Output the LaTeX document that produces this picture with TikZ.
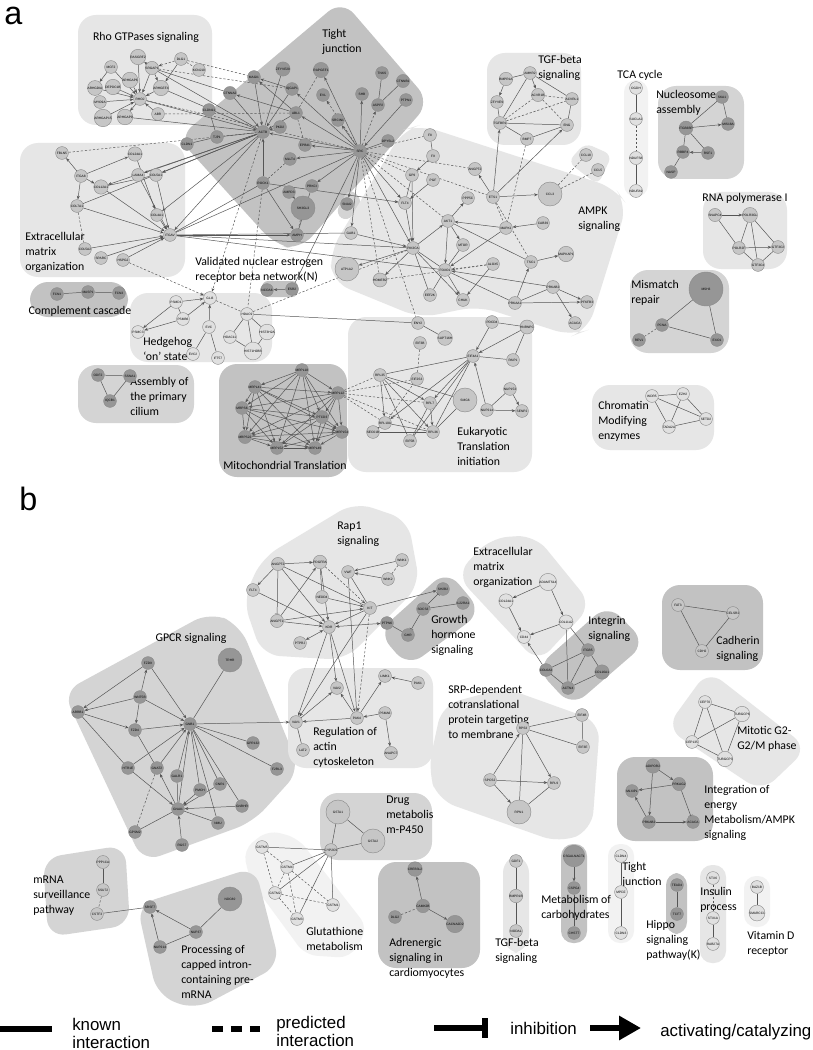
\documentclass[tikz,border=0pt]{standalone}
\usepackage{fontspec}
\setmainfont{Liberation Sans}
\newfontfamily\carlito{Carlito}
\usetikzlibrary{arrows.meta}
\definecolor{clPale}{HTML}{F2F2F2}
\definecolor{clLite}{HTML}{E6E6E6}
\definecolor{clMid}{HTML}{D4D4D4}
\definecolor{clDark}{HTML}{C2C2C2}
\definecolor{geneLite}{HTML}{C6C6C6}
\definecolor{geneDark}{HTML}{969696}
\definecolor{genePale}{HTML}{E0E0E0}
\definecolor{wire}{HTML}{555555}
\pgfdeclarelayer{back}
\pgfdeclarelayer{wires}
\pgfsetlayers{back,wires,main}

\begin{document}
\begin{tikzpicture}[
    x=0.025cm, y=-0.025cm,
    gene/.style={circle, draw=black!45, fill=geneLite, line width=0.3pt, minimum size=0.32cm, inner sep=0pt, font=\fontsize{2.3}{2.6}\selectfont},
    dgene/.style={gene, fill=geneDark},
    pgene/.style={gene, fill=genePale},
    bignode/.style={minimum size=0.6cm},
    hugenode/.style={minimum size=0.85cm},
    act/.style={-{Stealth[length=2.6pt,width=2.1pt]}, draw=wire, line width=0.35pt},
    und/.style={draw=wire, line width=0.35pt},
    pred/.style={und, dash pattern=on 1.6pt off 1.3pt},
    predact/.style={act, dash pattern=on 1.6pt off 1.3pt},
    inh/.style={-{Bar[width=3.2pt]}, draw=wire, line width=0.35pt},
    cltag/.style={font=\carlito\fontsize{8.4}{10.6}\selectfont, align=left, anchor=north west, inner sep=0pt},
    ctag/.style={cltag, anchor=center},
    bgPale/.style={fill=clPale, rounded corners=0.3cm},
    bgLite/.style={fill=clLite, rounded corners=0.45cm},
    bgMid/.style={fill=clMid, rounded corners=0.45cm},
    bgDark/.style={fill=clDark, rounded corners=0.45cm},
    keytext/.style={font=\fontsize{12}{12.8}\selectfont, align=left, anchor=west, inner sep=0pt},
    panel/.style={font=\fontsize{23}{26}\selectfont, anchor=base west, inner sep=0pt}
]
    \useasboundingbox (0,0) rectangle (812,1050);

    % Cluster backgrounds
    \begin{pgfonlayer}{back}
    \fill[white] (0,0) rectangle (812,1050);
    % panel a
    \fill[bgLite] (78,15) rectangle (212,125);
    \fill[bgDark] (178,138) -- (342,0) -- (430,102) -- (300,250) -- (275,245) -- cycle;
    \fill[bgMid, rounded corners=0.2cm] (335,214) -- (349,188) -- (363,200) -- (348,222) -- cycle;
    \fill[bgLite] (20,143) rectangle (185,277);
    \fill[bgDark] (30,282) rectangle (128,317);
    \fill[bgLite] (130,293) rectangle (272,362);
    \fill[bgDark, rounded corners=0.15cm] (262,281) rectangle (298,297);
    \fill[bgMid] (78,365) rectangle (194,423);
    \fill[bgDark] (219,364) rectangle (347,477);
    \fill[bgLite] (348,317) rectangle (532,472);
    \fill[bgLite] (330,252) -- (403,130) -- (420,125) -- (615,188) -- (627,205) -- (588,330) -- (572,336) -- (478,306) -- (420,318) -- (332,282) -- cycle;
    \fill[bgLite, rounded corners=0.2cm] (568,162) -- (585,143) -- (612,155) -- (598,185) -- cycle;
    \fill[bgLite] (487,53) rectangle (581,145);
    \fill[bgPale] (624,80) rectangle (648,197);
    \fill[bgMid] (658,86) rectangle (744,179);
    \fill[bgLite] (703,192) rectangle (787,269);
    \fill[bgMid] (630,270) rectangle (729,353);
    \fill[bgLite] (592,385) rectangle (714,450);
    % panel b
    \fill[bgLite] (243,600) -- (262,558) -- (355,502) -- (408,520) -- (420,585) -- (345,660) -- (262,655) -- cycle;
    \fill[bgDark] (378,632) -- (447,570) -- (482,612) -- (408,667) -- cycle;
    \fill[bgLite] (456,575) -- (490,538) -- (535,535) -- (592,605) -- (538,663) -- cycle;
    \fill[bgDark] (536,668) -- (608,604) -- (646,643) -- (572,707) -- cycle;
    \fill[bgDark] (662,585) rectangle (763,670);
    \fill[bgMid] (63,692) -- (210,612) -- (240,625) -- (300,770) -- (253,822) -- (143,862) -- cycle;
    \fill[bgLite] (288,668) rectangle (433,768);
    \fill[bgLite] (428,770) -- (442,705) -- (505,688) -- (600,722) -- (592,830) -- (560,843) -- (438,800) -- cycle;
    \fill[bgLite] (666,728) -- (708,670) -- (808,748) -- (762,792) -- cycle;
    \fill[bgDark] (617,757) rectangle (713,841);
    \fill[bgMid] (320,793) rectangle (432,860);
    \fill[bgPale] (243,850) -- (268,830) -- (298,838) -- (368,928) -- (350,958) -- (305,955) -- (250,880) -- cycle;
    \fill[bgDark] (378,862) rectangle (480,968);
    \fill[bgMid] (43,858) -- (125,845) -- (130,925) -- (48,937) -- cycle;
    \fill[bgMid] (137,905) -- (255,867) -- (280,965) -- (195,1010) -- (157,995) -- cycle;
    \fill[bgLite] (503,855) rectangle (529,953);
    \fill[clDark, rounded corners=0.3cm] (561,844) rectangle (587,943);
    \fill[bgPale] (608,844) rectangle (634,943);
    \fill[clDark, rounded corners=0.3cm] (666,873) rectangle (687,934);
    \fill[bgLite, rounded corners=0.3cm] (700,865) rectangle (726,963);
    \fill[bgPale] (744,876) rectangle (770,927);
    \end{pgfonlayer}

    % Panel letters
    \node[panel] (pa) at (4,25) {a};
    \node[panel] (pb) at (19,510) {b};

    % Cluster titles, panel a
    \node[ctag] (tRho) at (146,37) {Rho GTPases signaling};
    \node[cltag] (tTight) at (322,29) {Tight\\junction};
    \node[cltag] (tEcmA) at (25,232) {Extracellular\\matrix\\organization};
    \node[ctag] (tComp) at (80,311) {Complement cascade};
    \node[cltag] (tHedge) at (143,337) {Hedgehog\\‘on’ state};
    \node[cltag] (tEsr) at (195,257) {Validated nuclear estrogen\\receptor beta network(N)};
    \node[cltag] (tCilium) at (130,377) {Assembly of\\the primary\\cilium};
    \node[ctag] (tMito) at (285,465) {Mitochondrial Translation};
    \node[cltag] (tEuk) at (457,427) {Eukaryotic\\Translation\\initiation};
    \node[cltag] (tTgfA) at (538,55) {TGF-beta\\signaling};
    \node[ctag] (tTca) at (640,75) {TCA cycle};
    \node[cltag] (tNuc) at (656,90) {Nucleosome\\assembly};
    \node[ctag] (tRna) at (745,198) {RNA polymerase I};
    \node[cltag] (tAmpk) at (578,207) {AMPK\\signaling};
    \node[cltag] (tMis) at (631,280) {Mismatch\\repair};
    \node[cltag] (tChrom) at (598,401) {Chromatin\\Modifying\\enzymes};

    % Cluster titles, panel b
    \node[cltag] (tRap) at (337,522) {Rap1\\signaling};
    \node[cltag] (tEcmB) at (473,547) {Extracellular\\matrix\\organization};
    \node[cltag] (tGrowth) at (431,615) {Growth\\hormone\\signaling};
    \node[cltag] (tInteg) at (588,616) {Integrin\\signaling};
    \node[cltag] (tCadh) at (716,636) {Cadherin\\signaling};
    \node[ctag] (tGpcr) at (191,638) {GPCR signaling};
    \node[cltag] (tActin) at (313,727) {Regulation of\\actin\\cytoskeleton};
    \node[cltag] (tSrp) at (448,685) {SRP-dependent\\cotranslational\\protein targeting\\to membrane};
    \node[cltag] (tMitotic) at (737,726) {Mitotic G2-\\G2/M phase};
    \node[cltag] (tEnergy) at (704,785) {Integration of\\energy\\Metabolism/AMPK\\signaling};
    \node[cltag] (tDrug) at (386,796) {Drug\\metabolis\\m-P450};
    \node[cltag] (tMrna) at (33,876) {mRNA\\surveillance\\pathway};
    \node[cltag] (tProc) at (181,945) {Processing of\\capped intron-\\containing pre-\\mRNA};
    \node[cltag] (tGlut) at (306,927) {Glutathione\\metabolism};
    \node[cltag] (tAdren) at (389,938) {Adrenergic\\signaling in\\cardiomyocytes};
    \node[cltag] (tTgfB) at (495,938) {TGF-beta\\signaling};
    \node[cltag] (tCarb) at (541,895) {Metabolism of\\carbohydrates};
    \node[cltag] (tTightB) at (622,862) {Tight\\junction};
    \node[cltag] (tHippo) at (646,920) {Hippo\\signaling\\pathway(K)};
    \node[cltag] (tIns) at (700,887) {Insulin\\process};
    \node[cltag] (tVitd) at (747,931) {Vitamin D\\receptor};

    % Genes, Rho GTPases
    \node[gene] (rasgrf) at (138,57) {RASGRF2};
    \node[gene] (dlgA) at (181,59) {DLG1};
    \node[gene] (kcnj) at (199,70) {KCNJ10};
    \node[gene] (mcf) at (111,67) {MCF2};
    \node[gene] (arhgapS) at (130,80) {ARHGAP6};
    \node[gene] (srgap) at (152,68) {SRGAP1};
    \node[gene] (arhgef) at (161,88) {ARHGEF4};
    \node[gene] (arhgdia) at (95,88) {ARHGDIA};
    \node[gene] (depdc) at (113,87) {DEPDC1B};
    \node[gene] (rhoj) at (140,99) {RHOJ};
    \node[gene] (myo) at (100,102) {MYO9A};
    \node[gene] (arhgapF) at (103,118) {ARHGAP15};
    \node[gene] (arhgapN) at (125,117) {ARHGAP9};
    \node[gene] (abr) at (158,114) {ABR};

    % Genes, tight junction
    \node[dgene] (zfyve) at (283,69) {ZFYVE20};
    \node[dgene] (rapgef) at (321,70) {RAPGEF1};
    \node[dgene] (magi) at (254,77) {MAGI1};
    \node[dgene] (tnks) at (382,73) {TNKS};
    \node[dgene] (ctnnb) at (403,81) {CTNNB1};
    \node[dgene] (ctnna) at (230,93) {CTNNA2};
    \node[dgene] (iqgap) at (292,89) {IQGAP1};
    \node[dgene] (shb) at (362,94) {SHB};
    \node[dgene] (evl) at (323,95) {EVL};
    \node[dgene] (aspp) at (378,105) {ASPP2};
    \node[dgene] (ptpn) at (406,100) {PTPN1};
    \node[dgene] (cldnE) at (209,110) {CLDN11};
    \node[dgene] (abl) at (296,113) {ABL1};
    \node[dgene] (srcin) at (338,120) {SRCIN1};
    \node[dgene] (actb) at (263,132) {ACTB};
    \node[dgene] (pkd) at (280,127) {PKD2};
    \node[dgene] (tjp) at (217,137) {TJP1};
    \node[dgene] (cldnA) at (187,144) {CLDN1};
    \node[dgene] (epb) at (305,145) {EPB41};
    \node[dgene] (dpysl) at (388,141) {DPYSL2};
    \node[dgene] (src) at (360,151) {SRC};
    \node[dgene] (mllt) at (290,159) {MLLT4};
    \node[dgene] (rock) at (263,183) {ROCK1};
    \node[dgene] (ampd) at (289,192) {AMPD3};
    \node[dgene] (prkci) at (312,186) {PRKCI};
    \node[dgene, bignode] (sh3) at (303,208) {SH3GL3};
    \node[dgene] (snai) at (347,204) {SNAI2};
    \node[dgene] (amph) at (297,235) {AMPH};
    \node[gene] (gab) at (351,233) {GAB1};

    % Genes, extracellular matrix (a)
    \node[gene] (fbln) at (62,153) {FBLN5};
    \node[gene] (colTF) at (135,154) {COL24A1};
    \node[gene] (itga) at (81,176) {ITGA8};
    \node[gene] (colTw) at (101,187) {COL12A1};
    \node[gene] (lama) at (138,175) {LAMA4};
    \node[gene] (colF) at (156,175) {COL5A1};
    \node[gene] (colS) at (77,206) {COL7A1};
    \node[gene] (colFo) at (157,215) {COL4A1};
    \node[gene] (itgav) at (170,235) {ITGAV};
    \node[gene] (colFF) at (85,249) {COL5A2};
    \node[gene] (sparc) at (101,258) {SPARC};
    \node[gene] (hspg) at (123,260) {HSPG2};

    % Genes, complement, hedgehog, estrogen, cilium
    \node[dgene] (fcnA) at (57,294) {FCN1};
    \node[dgene] (masp) at (88,292) {MASP1};
    \node[dgene] (fcnC) at (119,293) {FCN3};
    \node[pgene] (gli) at (210,298) {GLI3};
    \node[pgene] (psmd) at (176,302) {PSMD1};
    \node[pgene] (psmb) at (183,319) {PSMB6};
    \node[pgene] (psmc) at (138,332) {PSMC3};
    \node[pgene] (evc) at (209,327) {EVC};
    \node[pgene] (hdac) at (247,314) {HDAC9};
    \node[pgene] (hdacE) at (230,337) {HDAC11};
    \node[pgene] (hist) at (267,332) {HIST3H2A};
    \node[pgene] (histB) at (253,351) {HIST1H2BB};
    \node[pgene] (evcB) at (193,354) {EVC2};
    \node[pgene] (ift) at (218,358) {IFT57};
    \node[dgene] (ncoa) at (267,290) {NCOA6};
    \node[dgene] (esr) at (292,289) {ESR2};
    \node[dgene] (odf) at (98,375) {ODF2};
    \node[dgene] (ssna) at (130,376) {SSNA1};
    \node[dgene] (iqcb) at (110,401) {IQCB1};

    % Genes, mitochondrial translation
    \node[dgene] (mrplE) at (302,370) {MRPL18};
    \node[dgene] (mrplFA) at (255,387) {MRPL41};
    \node[dgene] (mrplT) at (338,393) {MRPL12};
    \node[dgene] (mrpsS) at (242,408) {MRPS6};
    \node[dgene] (ptcd) at (322,417) {PTCD3};
    \node[dgene] (mrpsT) at (245,437) {MRPS22};
    \node[dgene] (mrplFF) at (342,432) {MRPL54};
    \node[dgene] (mrplFT) at (277,448) {MRPL52};
    \node[dgene] (mrplFN) at (315,448) {MRPL49};

    % Genes, eukaryotic translation initiation
    \node[gene] (eny) at (418,323) {ENY2};
    \node[gene] (supt) at (445,338) {SUPT16H};
    \node[gene] (pdcd) at (492,322) {PDCD4};
    \node[gene] (hnrnp) at (527,327) {HNRNPC};
    \node[gene] (eifTB) at (420,343) {EIF3B};
    \node[gene] (eifA) at (473,356) {EIF4A1};
    \node[gene] (paip) at (513,360) {PAIP1};
    \node[gene] (rplTF) at (380,375) {RPL35};
    \node[gene] (eifTS) at (417,379) {EIF2S3};
    \node[gene] (nupOF) at (510,389) {NUP153};
    \node[gene] (rplS) at (430,403) {RPL7};
    \node[gene, bignode] (smg) at (465,400) {SMG6};
    \node[gene] (nupTO) at (487,410) {NUP214};
    \node[gene] (senp) at (522,411) {SENP2};
    \node[gene] (rplTA) at (385,423) {RPL10A};
    \node[gene] (rplTS) at (433,432) {RPL36};
    \node[gene] (sec) at (373,432) {SEC61B};
    \node[gene] (eifFB) at (410,441) {EIF5B};

    % Genes, AMPK signaling
    \node[gene] (feE) at (430,135) {F8};
    \node[gene] (feN) at (433,156) {F9};
    \node[gene] (gpN) at (412,175) {GP9};
    \node[gene] (pgf) at (433,180) {PGF};
    \node[gene] (angptA) at (475,169) {ANGPT2};
    \node[gene] (ets) at (493,197) {ETS1};
    \node[gene, bignode] (ccl) at (550,194) {CCL3};
    \node[gene] (ccle) at (586,155) {CCL18};
    \node[gene] (cclf) at (598,170) {CCL5};
    \node[gene] (ppp) at (468,198) {PPP5C};
    \node[gene] (akt) at (448,221) {AKT1};
    \node[gene] (fltA) at (405,203) {FLT4};
    \node[gene] (mapk) at (506,228) {MAPK1};
    \node[gene] (cab) at (543,223) {CAB39};
    \node[gene] (mtor) at (463,245) {MTOR};
    \node[gene] (pik) at (413,248) {PIK3CA};
    \node[gene, bignode] (atp) at (347,269) {ATP1A2};
    \node[gene] (alox) at (493,264) {ALOX5};
    \node[gene] (tsc) at (531,262) {TSC1};
    \node[gene] (mapkap) at (566,254) {MAPKAP1};
    \node[gene] (foxo) at (445,270) {FOXO1};
    \node[gene] (homer) at (380,280) {HOMER2};
    \node[gene] (prkabA) at (553,287) {PRKAB2};
    \node[gene] (eef) at (430,295) {EEF2K};
    \node[gene] (chuk) at (463,300) {CHUK};
    \node[gene] (prkaa) at (515,303) {PRKAA1};
    \node[gene] (pfkfb) at (587,302) {PFKFB3};
    \node[gene] (acacaA) at (575,323) {ACACA};

    % Genes, TGF-beta, TCA, nucleosome, RNA polymerase, mismatch, chromatin
    \node[gene] (bmpr) at (506,79) {BMPR1A};
    \node[gene] (amhr) at (530,73) {AMHR2};
    \node[gene] (acvrB) at (538,95) {ACVR1B};
    \node[gene] (acvrl) at (572,99) {ACVRL1};
    \node[gene] (zfyveN) at (497,102) {ZFYVE9};
    \node[gene] (tgfbr) at (500,123) {TGFBR1};
    \node[gene] (eng) at (567,125) {ENG};
    \node[gene] (bmp) at (527,139) {BMP7};
    \node[pgene] (ogdh) at (636,88) {OGDH};
    \node[pgene] (sucla) at (636,119) {SUCLA2};
    \node[pgene] (ndufs) at (636,158) {NDUFS8};
    \node[pgene] (ndufa) at (636,191) {NDUFA9};
    \node[dgene] (ska) at (722,97) {SKA1};
    \node[dgene] (itgb) at (686,128) {ITGB3BP};
    \node[dgene] (mis) at (728,124) {MIS18A};
    \node[dgene] (rbbp) at (683,152) {RBBP4};
    \node[dgene] (rsf) at (708,153) {RSF1};
    \node[dgene] (nasp) at (671,172) {NASP};
    \node[gene] (snapc) at (715,215) {SNAPC4};
    \node[gene] (polrG) at (750,215) {POLR3GL};
    \node[gene] (polrF) at (739,248) {POLR2F};
    \node[gene] (gtfT) at (778,247) {GTF3C2};
    \node[gene] (gtfF) at (758,265) {GTF3C4};
    \node[dgene, hugenode] (msh) at (706,289) {MSH3};
    \node[dgene] (pcna) at (662,325) {PCNA};
    \node[dgene] (rev) at (639,340) {REV1};
    \node[dgene] (exo) at (717,340) {EXO1};
    \node[pgene] (wdr) at (652,396) {WDR5};
    \node[pgene] (ezh) at (683,394) {EZH2};
    \node[pgene] (setd) at (706,419) {SETD2};
    \node[pgene] (tada) at (669,427) {TADA2A};

    % Genes, Rap1, growth hormone, ECM (b), integrin, cadherin, mitotic
    \node[gene] (angptB) at (278,564) {ANGPT2};
    \node[gene] (pdgfra) at (320,562) {PDGFRA};
    \node[gene] (wnkA) at (402,560) {WNK1};
    \node[gene] (vwf) at (348,572) {VWF};
    \node[gene] (wnkB) at (388,579) {WNK2};
    \node[gene] (fltB) at (253,590) {FLT4};
    \node[gene] (nedd) at (322,597) {NEDD4};
    \node[gene] (kit) at (370,608) {KIT};
    \node[gene] (angptO) at (277,621) {ANGPT1};
    \node[gene] (kdr) at (329,627) {KDR};
    \node[gene] (ptprj) at (300,643) {PTPRJ};
    \node[dgene] (shtb) at (443,589) {SH2B2};
    \node[dgene] (ilr) at (463,603) {IL22RA1};
    \node[dgene] (socs) at (423,609) {SOCS3};
    \node[dgene] (ptpnS) at (387,623) {PTPN6};
    \node[dgene] (ghr) at (408,635) {GHR};
    \node[pgene] (adamts) at (548,582) {ADAMTS14};
    \node[pgene] (colTFb) at (506,601) {COL24A1};
    \node[pgene] (colEA) at (566,622) {COL11A2};
    \node[pgene] (cdff) at (524,637) {CD44};
    \node[dgene] (colSA) at (546,670) {COL6A3};
    \node[dgene] (itgbF) at (588,650) {ITGB5};
    \node[dgene] (colOS) at (602,672) {COL16A1};
    \node[dgene] (actn) at (568,688) {ACTN4};
    \node[gene] (fat) at (678,605) {FAT3};
    \node[gene] (celsr) at (733,613) {CELSR2};
    \node[gene] (cdh) at (702,651) {CDH2};
    \node[pgene] (cepS) at (705,702) {CEP70};
    \node[pgene] (tubS) at (742,714) {TUBGCP6};
    \node[pgene] (cepOTF) at (692,742) {CEP135};
    \node[pgene] (tubT) at (725,759) {TUBGCP3};

    % Genes, energy metabolism, SRP, GPCR, actin
    \node[dgene] (adipor) at (653,766) {ADIPOR2};
    \node[dgene] (prkag) at (679,784) {PRKAG2};
    \node[dgene] (mlx) at (632,791) {MLXIPL};
    \node[dgene] (prkabB) at (649,822) {PRKAB2};
    \node[dgene] (acacaB) at (693,822) {ACACA};
    \node[gene] (eifFBb) at (582,715) {EIF4B};
    \node[gene] (rps) at (523,728) {RPS3};
    \node[gene] (eifTE) at (583,747) {EIF3E};
    \node[gene] (spcs) at (490,780) {SPCS2};
    \node[gene] (rplN) at (554,783) {RPL9};
    \node[gene, bignode] (rpn) at (519,812) {RPN1};
    \node[dgene] (fzdN) at (148,663) {FZD9};
    \node[dgene, bignode] (trhr) at (230,660) {TRHR};
    \node[dgene] (wnt) at (140,697) {WNT5B};
    \node[dgene] (arrb) at (78,712) {ARRB1};
    \node[dgene] (gnb) at (190,724) {GNB1};
    \node[dgene] (fzdF) at (135,730) {FZD4};
    \node[dgene] (gpr) at (253,743) {GPR132};
    \node[dgene] (htr) at (128,768) {HTR1E};
    \node[dgene] (gnat) at (157,768) {GNAT2};
    \node[dgene] (galr) at (177,776) {GALR1};
    \node[dgene] (ftrl) at (277,769) {F2RL3};
    \node[dgene] (pmch) at (200,790) {PMCH};
    \node[dgene] (cnr) at (220,784) {CNR1};
    \node[dgene] (gnai) at (178,809) {GNAI1};
    \node[dgene] (gnrhr) at (242,806) {GNRHR};
    \node[dgene] (nmu) at (218,823) {NMU};
    \node[dgene] (gpsm) at (135,832) {GPSM2};
    \node[dgene] (rgs) at (182,845) {RGS7};
    \node[gene] (vav) at (296,722) {VAV1};
    \node[gene] (lat) at (303,750) {LAT2};
    \node[gene] (pak) at (357,718) {PAK4};
    \node[gene] (psma) at (385,713) {PSMA6};
    \node[gene] (anapc) at (391,753) {ANAPC7};
    \node[gene] (vavT) at (337,688) {VAV2};
    \node[gene] (limk) at (385,676) {LIMK1};
    \node[gene] (pakO) at (418,683) {PAK1};

    % Genes, drug, glutathione, adrenergic, mRNA, processing
    \node[gene, bignode] (gstaO) at (338,812) {GSTA1};
    \node[gene, bignode] (gstaT) at (373,841) {GSTA2};
    \node[gene] (cyp) at (331,850) {CYP2C9};
    \node[pgene] (gstmF) at (262,847) {GSTM5};
    \node[pgene] (gstmFo) at (287,867) {GSTM4};
    \node[pgene] (gstmT) at (275,893) {GSTM2};
    \node[pgene] (gstmO) at (333,905) {GSTM1};
    \node[pgene] (gstmTh) at (297,919) {GSTM3};
    \node[dgene] (creb) at (415,869) {CREB3L2};
    \node[dgene] (camk) at (423,906) {CAMK2B};
    \node[dgene] (dlg) at (395,917) {DLG2};
    \node[dgene] (cacna) at (455,924) {CACNA2D2};
    \node[gene] (pppB) at (103,862) {PPP1CA};
    \node[gene] (ssu) at (103,890) {SSU72};
    \node[gene] (cstf) at (97,914) {CSTF3};
    \node[dgene, bignode] (ndc) at (230,899) {NDC80};
    \node[dgene] (srsf) at (150,907) {SRSF7};
    \node[dgene] (nupTS) at (196,932) {NUP37};
    \node[dgene] (nupTOb) at (160,947) {NUP214};

    % Genes, small strips
    \node[gene] (gdf) at (516,861) {GDF1};
    \node[gene] (bmprB) at (516,896) {BMPR1B};
    \node[gene] (nodal) at (516,931) {NODAL};
    \node[dgene] (csgal) at (574,856) {CSGALNACT1};
    \node[dgene] (cspg) at (574,888) {CSPG4};
    \node[dgene] (chst) at (574,933) {CHST7};
    \node[pgene] (cldnF) at (621,856) {CLDN4};
    \node[pgene] (mpdz) at (621,892) {MPDZ};
    \node[pgene] (cldnT) at (621,933) {CLDN3};
    \node[dgene] (tead) at (677,885) {TEAD4};
    \node[dgene] (tcf) at (677,914) {TCF7};
    \node[pgene] (stxS) at (713,878) {STX6};
    \node[pgene] (stxO) at (713,918) {STX1A};
    \node[pgene] (rab) at (713,944) {RAB27A};
    \node[pgene] (baz) at (757,887) {BAZ1B};
    \node[pgene] (smarc) at (757,913) {SMARCC1};

    % Interactions
    \begin{pgfonlayer}{wires}
    % Rho GTPases
    \draw[act] (mcf) -- (arhgdia); \draw[act] (rasgrf) -- (rhoj); \draw[act] (mcf) -- (rhoj);
    \draw[act] (arhgapS) -- (rhoj); \draw[act] (srgap) -- (rhoj); \draw[act] (srgap) -- (rasgrf);
    \draw[predact] (dlgA) -- (srgap); \draw[act] (dlgA) -- (arhgef); \draw[act] (srgap) -- (arhgef);
    \draw[act] (arhgef) -- (rhoj); \draw[act] (arhgdia) -- (rhoj); \draw[act] (depdc) -- (rhoj);
    \draw[act] (myo) -- (rhoj); \draw[act] (arhgapF) -- (rhoj); \draw[act] (rhoj) -- (arhgapN);
    \draw[act] (abr) -- (rhoj); \draw[pred] (dlgA) -- (kcnj);
    \draw[und] (srgap) -- (ctnna); \draw[und] (srgap) -- (actb); \draw[und] (arhgef) -- (actb);
    \draw[act] (rhoj) -- (actb); \draw[und] (arhgapN) -- (actb);
    \draw[pred] (dlgA) -- (magi); \draw[pred] (abr) -- (abl); \draw[pred] (rhoj) -- (src);
    \draw[pred] (srgap) -- (iqgap);

    % Tight junction
    \draw[act] (magi) -- (actb); \draw[act] (ctnna) -- (actb); \draw[und] (tjp) -- (actb);
    \draw[und] (cldnE) -- (tjp); \draw[und] (tjp) -- (cldnA); \draw[act] (abl) -- (actb);
    \draw[act] (abl) -- (magi); \draw[pred] (abl) -- (rapgef); \draw[act] (abl) -- (ctnna);
    \draw[act] (iqgap) -- (actb); \draw[act] (pkd) -- (actb); \draw[act] (src) -- (abl);
    \draw[act] (src) -- (shb); \draw[predact] (src) -- (evl); \draw[predact] (src) -- (aspp);
    \draw[und] (aspp) -- (tnks); \draw[und] (aspp) -- (ctnnb); \draw[act] (ptpn) -- (src);
    \draw[und] (dpysl) -- (src); \draw[act] (src) -- (srcin); \draw[act] (src) -- (epb);
    \draw[act] (src) -- (mllt); \draw[act] (src) -- (prkci); \draw[act] (src) -- (snai);
    \draw[act] (src) -- (rapgef); \draw[act] (src) -- (iqgap); \draw[act] (src) -- (actb);
    \draw[pred] (rock) -- (mllt); \draw[act] (rock) -- (actb); \draw[act] (rock) -- (amph);
    \draw[act] (ampd) -- (sh3); \draw[pred] (sh3) -- (amph); \draw[und] (prkci) -- (amph);
    \draw[pred] (abl) -- (epb); \draw[act] (iqgap) -- (magi); \draw[und] (zfyve) -- (actb);

    % Tight junction to other clusters
    \draw[act] (actb) -- (itgav); \draw[act] (actb) -- (colFo); \draw[act] (actb) -- (lama);
    \draw[act] (actb) -- (colTw); \draw[act] (actb) -- (colF); \draw[pred] (fbln) -- (actb);
    \draw[predact] (actb) -- (gli); \draw[und] (actb) -- (colS); \draw[und] (src) -- (itgav);
    \draw[act] (src) -- (pik); \draw[act] (src) -- (fltA); \draw[pred] (src) -- (gpN);
    \draw[pred] (src) -- (angptA); \draw[pred] (src) -- (ets); \draw[act] (src) -- (gab);
    \draw[pred] (src) -- (homer); \draw[pred] (src) -- (eny); \draw[pred] (src) -- (feE);
    \draw[und] (src) -- (esr); \draw[pred] (src) -- (akt); \draw[act] (rock) -- (fltA);
    \draw[und] (rock) -- (itgav); \draw[pred] (rock) -- (hdac);

    % Extracellular matrix (a)
    \draw[act] (colFF) -- (itgav); \draw[act] (sparc) -- (itgav); \draw[act] (hspg) -- (itgav);
    \draw[act] (colS) -- (itgav); \draw[act] (colTw) -- (itgav); \draw[act] (lama) -- (itgav);
    \draw[act] (colF) -- (itgav); \draw[act] (colFo) -- (itgav); \draw[act] (colTF) -- (colFo);
    \draw[act] (itga) -- (colS); \draw[act] (itga) -- (colTw); \draw[act] (itga) -- (fbln);
    \draw[act] (itga) -- (colTF); \draw[pred] (colS) -- (colFF); \draw[und] (colTw) -- (colF);
    \draw[und] (itgav) -- (pik); \draw[und] (itgav) -- (foxo); \draw[act] (itgav) -- (amph);
    \draw[und] (itgav) -- (gab); \draw[predact] (hspg) -- (gli);

    % Complement, hedgehog, estrogen, cilium
    \draw[und] (fcnA) -- (masp); \draw[und] (masp) -- (fcnC);
    \draw[act] (psmd) -- (gli); \draw[act] (psmb) -- (gli); \draw[und] (psmd) -- (psmb);
    \draw[act] (psmd) -- (psmc); \draw[act] (psmb) -- (psmc); \draw[act] (evc) -- (gli);
    \draw[und] (evc) -- (evcB); \draw[und] (evc) -- (ift); \draw[pred] (gli) -- (hdac);
    \draw[und] (hdac) -- (hdacE); \draw[und] (hdac) -- (histB); \draw[und] (hdac) -- (hist);
    \draw[und] (hist) -- (histB); \draw[und] (hdacE) -- (histB);
    \draw[pred] (hdac) -- (pik); \draw[und] (hdac) -- (eny);
    \draw[act] (esr) -- (ncoa);
    \draw[und] (odf) -- (ssna); \draw[und] (odf) -- (iqcb); \draw[und] (ssna) -- (iqcb);

    % Mitochondrial translation
    \draw[act] (mrplE) -- (mrplFA); \draw[act] (mrplE) -- (mrplT); \draw[act] (mrplE) -- (mrpsS);
    \draw[act] (mrplE) -- (ptcd); \draw[act] (mrplE) -- (mrpsT); \draw[act] (mrplE) -- (mrplFF);
    \draw[act] (mrplE) -- (mrplFT); \draw[act] (mrplE) -- (mrplFN);
    \draw[act] (mrplFA) -- (mrplT); \draw[act] (mrplFA) -- (mrpsS); \draw[act] (mrplFA) -- (ptcd);
    \draw[act] (mrplFA) -- (mrpsT); \draw[act] (mrplFA) -- (mrplFF); \draw[act] (mrplFA) -- (mrplFT);
    \draw[act] (mrplFA) -- (mrplFN);
    \draw[act] (mrplT) -- (mrpsS); \draw[act] (mrplT) -- (ptcd); \draw[act] (mrplT) -- (mrpsT);
    \draw[act] (mrplT) -- (mrplFF); \draw[act] (mrplT) -- (mrplFT); \draw[act] (mrplT) -- (mrplFN);
    \draw[act] (mrpsS) -- (ptcd); \draw[act] (mrpsS) -- (mrpsT); \draw[act] (mrpsS) -- (mrplFF);
    \draw[act] (mrpsS) -- (mrplFT); \draw[act] (mrpsS) -- (mrplFN);
    \draw[act] (ptcd) -- (mrpsT); \draw[act] (ptcd) -- (mrplFF); \draw[act] (ptcd) -- (mrplFT);
    \draw[act] (ptcd) -- (mrplFN);
    \draw[act] (mrpsT) -- (mrplFF); \draw[act] (mrpsT) -- (mrplFT); \draw[act] (mrpsT) -- (mrplFN);
    \draw[act] (mrplFF) -- (mrplFT); \draw[act] (mrplFF) -- (mrplFN); \draw[act] (mrplFT) -- (mrplFN);
    \draw[pred] (mrplT) -- (rplTF); \draw[pred] (mrplT) -- (rplS); \draw[pred] (mrplT) -- (rplTA);
    \draw[pred] (mrplT) -- (rplTS); \draw[pred] (mrplT) -- (eifTS);

    % Eukaryotic translation initiation
    \draw[und] (eny) -- (supt); \draw[pred] (eifTB) -- (eifTS); \draw[act] (pdcd) -- (eifA);
    \draw[act] (hnrnp) -- (eifA); \draw[und] (eifA) -- (paip); \draw[und] (paip) -- (hnrnp);
    \draw[und] (eifA) -- (rplTF); \draw[act] (eifA) -- (rplS); \draw[act] (eifA) -- (rplTA);
    \draw[und] (eifA) -- (rplTS); \draw[act] (nupTO) -- (eifA); \draw[und] (eifA) -- (eifFB);
    \draw[act] (rplTF) -- (rplTA); \draw[act] (rplTF) -- (rplTS); \draw[act] (rplTF) -- (rplS);
    \draw[und] (rplTF) -- (eifFB); \draw[act] (sec) -- (rplTA); \draw[und] (sec) -- (rplTS);
    \draw[act] (rplS) -- (rplTS); \draw[und] (smg) -- (rplTS); \draw[und] (smg) -- (rplTF);
    \draw[act] (nupOF) -- (senp); \draw[und] (nupOF) -- (nupTO); \draw[act] (nupTO) -- (senp);
    \draw[und] (rplTA) -- (rplTS); \draw[und] (eifFB) -- (rplS); \draw[pred] (rplTA) -- (eifTS);
    \draw[und] (pdcd) -- (hnrnp);

    % AMPK signaling
    \draw[und] (feE) -- (feN); \draw[act] (feN) -- (gpN); \draw[und] (gpN) -- (fltA);
    \draw[act] (pgf) -- (fltA); \draw[act] (fltA) -- (pik); \draw[act] (gpN) -- (pik);
    \draw[act] (gab) -- (pik); \draw[act] (pik) -- (atp); \draw[act] (pik) -- (akt);
    \draw[und] (pik) -- (foxo); \draw[act] (pik) -- (homer); \draw[und] (pik) -- (eef);
    \draw[act] (pik) -- (chuk); \draw[act] (akt) -- (ppp); \draw[act] (akt) -- (mtor);
    \draw[und] (akt) -- (tsc); \draw[act] (akt) -- (foxo); \draw[act] (ets) -- (angptA);
    \draw[act] (ets) -- (tgfbr); \draw[act] (ets) -- (eng); \draw[act] (ets) -- (ccl);
    \draw[pred] (ets) -- (mapk); \draw[pred] (ets) -- (tsc); \draw[act] (cab) -- (mapk);
    \draw[act] (mapk) -- (foxo); \draw[predact] (alox) -- (foxo); \draw[act] (alox) -- (chuk);
    \draw[act] (tsc) -- (mapkap); \draw[act] (prkaa) -- (tsc); \draw[act] (prkabA) -- (foxo);
    \draw[und] (prkabA) -- (prkaa); \draw[act] (prkabA) -- (pfkfb); \draw[act] (prkabA) -- (acacaA);
    \draw[act] (prkaa) -- (pfkfb); \draw[und] (prkaa) -- (foxo); \draw[und] (eef) -- (foxo);
    \draw[act] (foxo) -- (chuk); \draw[pred] (homer) -- (alox); \draw[pred] (bmp) -- (mapk);
    \draw[und] (mtor) -- (foxo); \draw[pred] (ccl) -- (ccle); \draw[pred] (ccl) -- (cclf);
    \draw[act] (mapk) -- (akt);

    % TGF-beta, TCA, nucleosome, RNA polymerase, mismatch, chromatin
    \draw[und] (amhr) -- (bmpr); \draw[act] (bmpr) -- (zfyveN); \draw[act] (amhr) -- (acvrB);
    \draw[und] (amhr) -- (acvrl); \draw[und] (tgfbr) -- (amhr); \draw[pred] (tgfbr) -- (acvrB);
    \draw[pred] (tgfbr) -- (acvrl); \draw[und] (tgfbr) -- (eng); \draw[und] (tgfbr) -- (bmp);
    \draw[pred] (acvrB) -- (acvrl); \draw[pred] (acvrB) -- (eng); \draw[und] (acvrl) -- (eng);
    \draw[und] (zfyveN) -- (tgfbr); \draw[und] (bmp) -- (eng);
    \draw[und] (ogdh) -- (sucla); \draw[pred] (sucla) -- (ndufs); \draw[und] (ndufs) -- (ndufa);
    \draw[und] (ska) -- (itgb); \draw[und] (ska) -- (mis); \draw[act] (itgb) -- (mis);
    \draw[und] (itgb) -- (rbbp); \draw[und] (itgb) -- (rsf); \draw[act] (rsf) -- (rbbp);
    \draw[und] (rbbp) -- (nasp);
    \draw[act] (snapc) -- (polrG); \draw[und] (snapc) -- (polrF); \draw[und] (polrG) -- (polrF);
    \draw[und] (polrG) -- (gtfT); \draw[und] (polrG) -- (gtfF); \draw[act] (polrF) -- (gtfT);
    \draw[und] (polrF) -- (gtfF); \draw[und] (gtfT) -- (gtfF);
    \draw[und] (msh) -- (pcna); \draw[und] (msh) -- (exo); \draw[und] (pcna) -- (exo);
    \draw[pred] (pcna) -- (rev);
    \draw[und] (wdr) -- (ezh); \draw[und] (wdr) -- (setd); \draw[und] (wdr) -- (tada);
    \draw[und] (ezh) -- (setd); \draw[und] (ezh) -- (tada); \draw[und] (tada) -- (setd);

    % Rap1 signaling and growth hormone
    \draw[act] (angptB) -- (pdgfra); \draw[act] (angptB) -- (fltB); \draw[inh] (angptB) -- (angptO);
    \draw[act] (angptB) -- (kdr); \draw[und] (angptB) -- (kit); \draw[und] (pdgfra) -- (nedd);
    \draw[predact] (pdgfra) -- (kit); \draw[act] (pdgfra) -- (kdr); \draw[act] (wnkA) -- (vwf);
    \draw[act] (wnkB) -- (vwf); \draw[pred] (wnkA) -- (wnkB); \draw[und] (vwf) -- (kit);
    \draw[act] (fltB) -- (kdr); \draw[act] (angptO) -- (pdgfra); \draw[act] (angptO) -- (kdr);
    \draw[act] (angptO) -- (kit); \draw[act] (nedd) -- (kit); \draw[act] (kit) -- (kdr);
    \draw[{Stealth[length=2.6pt,width=2.1pt]}-{Stealth[length=2.6pt,width=2.1pt]}, und] (kdr) -- (ptprj);
    \draw[{Stealth[length=2.6pt,width=2.1pt]}-{Stealth[length=2.6pt,width=2.1pt]}, und] (ptpnS) -- (kdr);
    \draw[act] (kit) -- (shtb); \draw[act] (kdr) -- (vav); \draw[act] (kdr) -- (vavT);
    \draw[act] (kdr) -- (pak); \draw[act] (kit) -- (vav); \draw[predact] (kit) -- (pak);
    \draw[und] (vwf) -- (pak);
    \draw[inh] (socs) -- (shtb); \draw[inh] (ilr) -- (socs); \draw[inh] (socs) -- (ghr);
    \draw[und] (ptpnS) -- (ghr);

    % Actin cytoskeleton
    \draw[act] (gnb) -- (vav); \draw[und] (vav) -- (lat); \draw[act] (pak) -- (vav);
    \draw[act] (pak) -- (vavT); \draw[act] (pak) -- (limk); \draw[act] (pakO) -- (limk);
    \draw[act] (psma) -- (pak); \draw[act] (psma) -- (anapc); \draw[act] (vav) -- (vavT);

    % ECM (b), integrin, cadherin, mitotic, energy, SRP
    \draw[act] (adamts) -- (colTFb); \draw[act] (adamts) -- (colEA); \draw[act] (colTFb) -- (cdff);
    \draw[act] (colEA) -- (cdff); \draw[act] (colSA) -- (cdff);
    \draw[und] (colEA) -- (actn); \draw[und] (colEA) -- (itgbF); \draw[und] (colSA) -- (itgbF);
    \draw[und] (colSA) -- (actn); \draw[und] (itgbF) -- (actn); \draw[und] (itgbF) -- (colOS);
    \draw[und] (actn) -- (colOS);
    \draw[und] (fat) -- (celsr); \draw[und] (fat) -- (cdh); \draw[und] (celsr) -- (cdh);
    \draw[und] (cepS) -- (tubS); \draw[und] (cepS) -- (cepOTF); \draw[und] (cepS) -- (tubT);
    \draw[und] (tubS) -- (cepOTF); \draw[und] (tubS) -- (tubT); \draw[und] (cepOTF) -- (tubT);
    \draw[act] (adipor) -- (prkag); \draw[act] (adipor) -- (prkabB); \draw[act] (prkag) -- (mlx);
    \draw[inh] (prkag) -- (acacaB); \draw[act] (prkabB) -- (mlx); \draw[act] (prkabB) -- (acacaB);
    \draw[und] (rps) -- (eifFBb); \draw[und] (rps) -- (eifTE); \draw[act] (rps) -- (rplN);
    \draw[und] (rps) -- (rpn); \draw[act] (spcs) -- (rps); \draw[act] (spcs) -- (rplN);
    \draw[act] (spcs) -- (rpn); \draw[und] (rpn) -- (rplN); \draw[und] (eifFBb) -- (eifTE);

    % GPCR signaling
    \draw[act] (fzdN) -- (arrb); \draw[act] (fzdN) -- (gnb); \draw[act] (wnt) -- (fzdN);
    \draw[act] (wnt) -- (arrb); \draw[act] (wnt) -- (fzdF); \draw[act] (wnt) -- (gnb);
    \draw[act] (arrb) -- (fzdF); \draw[und] (arrb) -- (htr); \draw[act] (fzdF) -- (gnb);
    \draw[und] (fzdF) -- (gnat); \draw[und] (trhr) -- (gnb); \draw[und] (gnb) -- (gpr);
    \draw[und] (gnb) -- (ftrl); \draw[und] (gnb) -- (galr); \draw[und] (gnb) -- (pmch);
    \draw[und] (gnb) -- (cnr); \draw[act] (gnai) -- (gnb); \draw[act] (htr) -- (gnb);
    \draw[act] (htr) -- (gnai); \draw[act] (gnat) -- (gnb); \draw[pred] (gnat) -- (gpsm);
    \draw[act] (gnai) -- (gnat); \draw[act] (pmch) -- (gnai); \draw[act] (cnr) -- (gnai);
    \draw[act] (gnrhr) -- (gnai); \draw[und] (nmu) -- (gnb); \draw[act] (rgs) -- (gnai);
    \draw[und] (gpsm) -- (gnai); \draw[und] (galr) -- (gnai); \draw[und] (gnrhr) -- (gnb);
    \draw[und] (nmu) -- (gnai);

    % Drug, glutathione, adrenergic, mRNA, processing
    \draw[und] (gstaO) -- (gstaT); \draw[und] (gstaO) -- (cyp); \draw[und] (gstaT) -- (cyp);
    \draw[und] (cyp) -- (gstmF); \draw[und] (cyp) -- (gstmFo); \draw[und] (cyp) -- (gstmT);
    \draw[und] (cyp) -- (gstmTh); \draw[und] (cyp) -- (gstmO);
    \draw[pred] (gstmF) -- (gstmFo); \draw[pred] (gstmF) -- (gstmT); \draw[pred] (gstmFo) -- (gstmT);
    \draw[pred] (gstmFo) -- (gstmTh); \draw[pred] (gstmFo) -- (gstmO); \draw[pred] (gstmT) -- (gstmO);
    \draw[pred] (gstmT) -- (gstmTh);
    \draw[act] (camk) -- (creb); \draw[pred] (dlg) -- (camk); \draw[act] (camk) -- (cacna);
    \draw[und] (pppB) -- (ssu); \draw[pred] (ssu) -- (cstf); \draw[und] (cstf) -- (srsf);
    \draw[und] (ndc) -- (nupTS); \draw[act] (nupTS) -- (srsf); \draw[act] (nupTOb) -- (srsf);
    \draw[und] (nupTOb) -- (nupTS);

    % Small strips
    \draw[und] (gdf) -- (bmprB); \draw[und] (bmprB) -- (nodal);
    \draw[act] (csgal) -- (cspg); \draw[und] (cspg) -- (chst);
    \draw[und] (cldnF) -- (mpdz); \draw[und] (mpdz) -- (cldnT);
    \draw[und] (tead) -- (tcf);
    \draw[pred] (stxS) -- (stxO); \draw[und] (stxO) -- (rab);
    \draw[und] (baz) -- (smarc);
    \end{pgfonlayer}

    % Legend
    \coordinate (knownA) at (0,1029);
    \coordinate (knownB) at (52,1029);
    \coordinate (predA) at (212,1029);
    \coordinate (predB) at (260,1029);
    \coordinate (inhA) at (434,1028);
    \coordinate (inhB) at (488,1028);
    \coordinate (actA) at (590,1028);
    \coordinate (actB) at (641,1028);
    \draw[line width=4.3pt] (knownA) -- (knownB);
    \draw[line width=4.3pt, dash pattern=on 8pt off 5.5pt] (predA) -- (predB);
    \draw[line width=4.3pt, -{Bar[width=0.5cm]}] (inhA) -- (inhB);
    \draw[line width=4.3pt, -{Triangle[length=0.55cm, width=0.58cm]}] (actA) -- (actB);
    \node[keytext] (kKnown) at (72,1033) {known\\interaction};
    \node[keytext] (kPred) at (276,1031) {predicted\\interaction};
    \node[keytext] (kInh) at (510,1028) {inhibition};
    \node[keytext] (kAct) at (660,1032) {activating/catalyzing};
\end{tikzpicture}
\end{document}
